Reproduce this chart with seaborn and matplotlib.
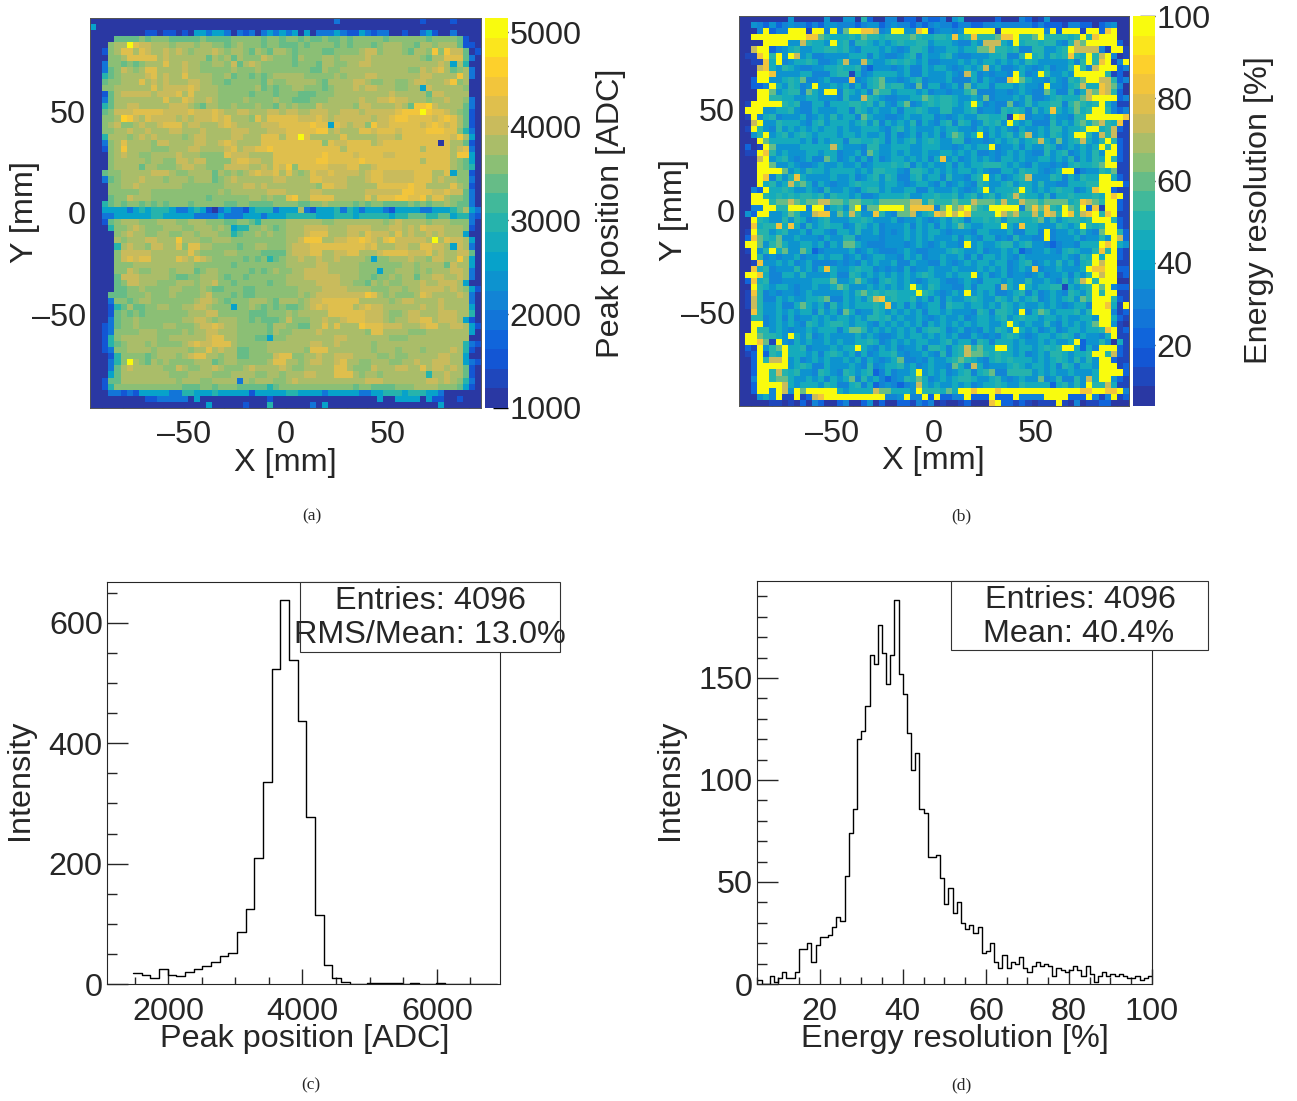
import numpy as np
import matplotlib
matplotlib.use("Agg")
import matplotlib.pyplot as plt
from matplotlib.colors import LinearSegmentedColormap
from matplotlib.patches import Rectangle
from matplotlib.ticker import FixedLocator, MultipleLocator
import seaborn as sns

sns.set_style("ticks")
plt.rcParams["font.family"] = ["Liberation Sans", "DejaVu Sans"]

W, H = 1297, 1101

# Cell levels, top row first, 8 columns per group.
peak_levels = dict(zip("abcdefghijklm", [1000, 1500, 2000, 2500, 3000, 3300, 3600, 3800, 4000, 4200, 4500, 4700, 5100]))
peak_rows = """
aaaaaaaa aaaaaaaa aaaaaaaa aaaaaaaa aaaaaaaa caaaaaaa aaaaaaba aaabaaaa
daaaaaaa aaaaaaaa aaaaaaaa aaaaaaaa aaaaaaaa aaaaaaaa aaaaaaaa aaaaaaaa
aaaaaaaa abbabbab addcddca cbcacdcd cdadaccc dcbbdcbc caabaacd baacaaaa
aaaaffff gfgggfff ffgffffg ggggfggf ggfgffgf fgfggggg fggggggf ggggfbaa
aaaghhmj iihhhghh hghhggfg hgggfggf ffgfgggg fgfgggfg hhhggfhh ghhhfbba
aabghjjh jihhihih ghhhihgh hgfhgfhh gfggggff gggghiig hhhgfhhg kgkiifab
aaagghjj jjjhihhh hhhfhghf hgggihgg gfhggghh ghhhhihh hhhhhhgf hhjjjfca
aacggfgf ghhhjhhi hhgghhgi fhihgggg gfgggfhh gghhiihh hhhhhhhh hihdheaa
aacfgihg hjjhhhhi hhgggggh ggghgggg ggggffhg ghhhhhhh hhhhggih ijhfghca
aaefghhh hijhihhj hhhhgghf ggfgfghh hhhggggg hghhhiih hhhhhhii hhhhkhca
aafgghhh jhihihhh iihhggfg ggggfhgg hhhhhgfh hhhiihgg hhgghiih hhikghaa
aagghhhh hhjhiiii jihhhggg ggghfgfg ghhgggfg hhhihiih hhgghhdi hhhhhgaa
aabfhiii iihiiijh jhhhhggg ggfgggfg ggfffggg hhhhhhhh hihhhhhf iihhhhaa
aacfhhhh hhhhjhhj ihhihggg ghgggghg gfffgggh hhhhihhi ijiihhhg hhihhgca
aaefhhii hhhhhiii hgfhhggh ggghggfh ghgggihh hhhgiihh hhihfkkl ihhhhfca
aafgiiij jjjjiiii jiiijihh iihhhiih iihhiiih hiiihiii iijkkkmk jjihgfba
aagghlki hjiiiihi hiiijijh hhgjhjjj jjiiijih iiiiiihi ijkkjjjj ijkjhfba
aaghiggh ihhijjjh iihhhiji hhhhiiij jjjjkjjd jihiigki ijjjjjij kjijhfba
aagghhih hihhhiih hhihhhhi iihhhiii jjjjjkkh ihhhjjij jjijjjjk kkjjgeca
aaehhhgh ihihhhhg hiihhhhi ihhhjjjh jjmjhhhh hjhhhhhi iihjjjjj jjjikhda
aacghjhh hhgiihhh hiihhiji hhhhjjjj jjjjjjgj iijjjjhi jjjjjjjj jajhhfba
aabghkhh hhggghhh iihhhhij hiijjkjj jjjjjjjj jhjjjjjj jjjjjjhj jjjhijca
aaaghihh gghhhhih hhggggji iihhhhjj jjjjjjkj jjjijjjj iijjjjjj jjjhkkda
aaaghhhh hghhggii hiiggggi jjiihhjj jjjjjkkj jjjjkjjj jjjjjjhj jjjhgfda
aaaghhhh fhhggghi ihhgggii iihhihji kgjjjjji iijjhhij jjjjjjjj jjjhgfea
aafgghhh hhiiihgg hhhhfhgh ghijiijh jhghjiij iiiihijj iiiiijjj hhjdggba
aacfghhh ihhhghhh ghhhfghi hhhhhhii hhhhjjii iihhhijj iiiiijjj hihhggca
aaagghhi hhhhhhhg gggggghh hiihihhh hhhhhgjj iihhhhhj jjjjkjjh hhhjhgba
aaaggggg hhgggggg ggggghgh hhhhhiii hhhhiihh hhhhhiii iiikkjjj iijiifca
aaafggih hhgggggg gggfgggg gghhghgg jkhhjjjj hhhhhjhj jjkkjjkh jjhggfca
aaefgfgg fgfgfggg fgggggff ggffffgg ggffgghg gggfgfgg ffffgfgf gghgffca
aaddddcd edeeedcc dedbacdc cbdeeecd ddhcbddd ecedcddd cbddddcc dddefhdc
aaccdddd ddeedddd dccccdcc cdddcddd eeeeeddd eeedeeee edeefffe effdeecb
aabfghhh ggghhhgg hhhgggff ggfegggg hhhhhhgg hhhhhhhh ghihhhhg hhhgggca
aaaegghi hggghhhg ghhhghgd eegghgfg hhhiiiih hhiiiihh hiihihji iihhhgba
aaaaghih hgghhggh hghhhgge fgghghgg hhhijjjh hhiihjii ihjhihhi hihhhdaa
aaaahghh hiihhhkh hhgghhhg gggggggg hhikkkhh iijjkjih jkiiiiih mhjiihda
aaaaehih hgiihhjg jjhhgggg fgghhggg hiiijjjj jjjjjijh hhiihhjj iihdihca
aaaagiii iihhhhhh jhgggghh ggggffff hiiijjhh iijjhhhi jjjjiiij hihhiifa
aaaagiji jjhhhhji hjihgggg gfgfgefg hhihhihh ihhhhgdg ghhhihhg iihhkhda
aaaagggh hhhhhhhh hggggggf gggggggg hhhhhiih hhhhgggg ggghhghh hhfihhda
aaaaggih gghhhghh hfghhggg ggfgfghg ghhiiiih hhhhgggd gghhhghg hhhiihca
aaaafiii hhhhhgff gghhhgfg gfgggggg hhhiiiii ihhhggfg ghghhfhh iihhihca
aaaafgii hhhggghh hghhiggf gggggfgg hhhhhiii ihhggfhg hgghhhih hiiihdaa
aaaaffgg hgggghhg gghgffgg gffggggg gghhhhii iihhhhgg ghhghhii iihihgdb
aaafffgg ghggghgg gghigggf gffggggg gghghiii iiiiikjh ghggghji hhhhihca
aaacggfg hhgggggg ghiihgfg gghhhgfh hhghiijj jjjjhhhh hghiihhh hihhhhca
aaabefhf fgghhggh hiihgggd gghgfgfg ffghijij jjjhijii hhhhhhih hihhhhda
aaabfgfg fggggggg hhhiiggg ggfffggg hghhhhhj jjjjjiii hgghiihh hiiihhea
aaacfggh gggggggh hiihghhh ggfgfffg iggghhih hijjjiii hghhiijj hiiihdba
aabcfggh gggghhgg ghiijihh gggggfhh ggffhhjh jhhhkjjj iiihhhij jhhiihdb
aabcgggg hhhggggh ghhiihhh gggggfhg ghhhhihh hhhhhgjj hhhhgggh hhhhhhda
aabeghhh hhhgghhh hhhijjhh gggffdgg hhhhhhhh iihhhhhh hggghhhh hhhhhhaa
aabefghh hghggggh ijiijjjh ggggghhh hhhhiihh ihhhhhgh hhhhhhhh hhhhhecb
aabcgghh hhghhhhh ghhjhihh ffggghhh hhhgjjjh hhhhhhgh hhghhhgh hhhiheba
aaabeggg gfghhhgh ijjhhghh ffggggij jgghhihh iiihhhhg ghgghhhh hiihhdaa
aaacegmh gfhghggg ghhhfghh ggggghjj hhghiihh ijhhgghh hgghhihh iiihhdcb
aaacfhih hhhhggih gghhihgg ghihhhhi hgghhhhh jjhgggih hhiihhjh iihihfba
aaadfhhh hhhhhggg hhhhgggh hhhgghhg hhhiihhh jjjhghhg hhhhhhhe hhihhfba
aabffhhh hhhhhhgh hhgghhhh chghhhgg hihhhhhh hhhhhiii hhhhhhhi ihihgeca
aabegggg gggggggf ffggfggg fffffefg gggggggg gggfggff ffggghhh hgggfdba
aaaccbcb dddddcce edddeddd ddbddddd eeddddcd ddddccdd eeedeeed dcaaaaaa
aaaaaaaa abbccccc adaaaaaa aaaaabaa aaaaaaaa aaaaaaad aaddddad bbaabaaa
aaaaaaaa aaaaaaaa aaadaaaa abaaaeaa aaaacada aaaaaaaa aaaaaaaa adaaaaaa
"""

reso_levels = dict(zip("abcdefghijk", [5, 12, 20, 29, 37, 44, 52, 62, 72, 85, 100]))
reso_rows = """
aaaaaaaa eaaaaaea aeeagcaa ddaccadc cdaefaaa aacaaadc abeaaaaa aaaaaaaa
aaedcecd eddcdcee dddcdeec deddcdcd eddcddcc ddeddddd cdcccbdd ccacdeaa
aaadkcdd kkkbkkdk dhkkjjid ekkeejkc deedekkk kkbkkkkk kkdkckkk bkkcjkaa
aakkkkkk kkkjjhgf ffgfhggf gggghgff ggfjfgjg gghjjkgg hkggggfg kgjkkkaa
aaaakkkk eeigffek fgdggfef efgffgge fffeddfe iiifekfg gfggedgi hkkkkkca
aaikkcde fgeeffgg fgedfffe fedeggfd eeffeffh higgfgdd ggeefgki iiidbkkb
abbjkgke kiefddee eefffdfe ddefgdfe efgeddee effgddgk fgegfgjg fkgikdab
aabbjfkd effgfdde fieeifee fgfgfefd deeefefe ffefefeg feeeeefd gkgjkbdk
aaaijfeg feddeeff gffgdcee edefddfe ffedefef iefddefe defdeegk gdikkkcd
aaakkjee eeffdddf ggbfdeff ffefddfe eefedifd edeedkfd ekgeefek kkkkgbca
aackkeef gfhddefd ddjdefgh eedefgde eefdddfd feddjkhf eedfedgf hkkiigcd
aaccdkfe gfdekeef efdfdfgh fggedhdf fdefdhef fdfffefe edkeedfg iffjihda
aaakkhef ggdhfekk dgfefdhg gefffefd eedeeghd ddeedefe ddhfddgd fihjigca
aaakkggf feeffeee dgeeigfe ddeeffhg fggfeefe hdeeefeg ddefgfff hikkkkcd
abkkkkkg fgddffdf ffggfgeg edfhdefg fggfefkf deddhdeg effggdgh gfgkfdbb
akkkeeff geddfeee ffdgfefe efdffgfe eggeefgd eedgfgfd gefjfefh fgkkgdcd
abkdfgde eefdefeg effdhfee ddefeeff dedefeeg gffgbkjd eedfeedg gkkkkkkj
aaikeegf ffedfgef ffefgegd fefegdfe dfgdgfde gfgekfef dddgefeg hfhigfjb
abkgedge fefefeff efeefffe dfgefeee feffeedf efefedfe efeggeff gkkfgicb
aaegkefg efgfefff effefeef dfdefdfe fdfhgefk dfefgegi efegfefk kgeigibb
aaakhfff ffefdfef fdggffgf dfefgefg feeggdee defefgef gifehefg ifegkgcb
acabkhee eefffffi feeedgge efffeeff feedefef fkdeefdf eegfdefe fefkgkcb
abbkjgef eeeffeff deefdhfe efefeefe effefefd dedefefe ddgefgde fegekkcb
aaaikefg edefddhf defdfdfd effefefd fjefdefe fedffefe effefegd fegfkgcb
aaakkhee feddefee feefdeff fgfgdfef eefdfeff gggfefed feededfg ffghkkbb
aaakkkkh efegffef fffefegg ffedggfe fefeffef eddffegf fedefkkc deegfhbb
aaakjdge gjfeeeef eefdefge gfddfgef fdgeedfg kefdefgi eeegfdfe gffkkfcb
aaakfgef ighfdfed eefgfffe ffedeffe dfdefedg feefgeff egeeddff fggkkkkc
aadckffg feefedge efedfgge feeffddf eeefedef kefffgkf efefgffd efjkkcbb
aakkgfgf gfggfgeg ffefddef fffgeeff gffgefge fgefgigf fegdffgf ffgfkjkb
aakkkghh ihghhiih hghhggfh hhhhiifh ggghggih hhgiggih hghhhhfg jihgkkcb
aaddkkgg kkkdkkdf gehkdhhk kkkhjjjj dhkhikhg fkkkkkdh jhjgfkhg kcjbkkcb
aeckkeef hgeeijje hfigeejg edhhiefg jikikjgg ggkihigg igjigkjg ijkgjkbb
aakgfeeg egfdefge eeffgfee efdeefed efegfdff gfgeggff ghegefgg fgkkkgcb
aajfggjf jfdgefgf fdegfefd eeefdfef dfefhfee fffkfejf feeegfef kgfgkkcb
abkggefg eefdffed ffegeefd edefefef fedeeedf feeefddf fdkdeefe gedhkkgc
acjhgfhe efeeedfe eggdeeed eeefefef eeefdfed ffdedgee ddkdeeef deegekic
akkheghf eeffefdf ehhfeddd eeedefed efeedkef eefggefg eedcdeed fffkjkfe
abkegkfh eehfcdee eefdefed ddefedde eefgfeef deefefcd eefedfgf eegjgkcb
aakgdede efdeefef fdefdeff eedfefde efeefdfd ffefedfe eeeeefed gfkfkkcb
aabjeefe fdefdddd ededfefe efddfeed dfedefef feffdefg defegefd fgkikkbb
aajfgdee egefdfjf eefgffde dedfdeef eeefeeef efefdefe jdeefeee fkjjkkcc
akkjfddf fegeeeef ddgfefef efefefgf eefeffke fdefdeed efdeefdf egkikkbc
acjfgdde eeeefffh eefhfedf gfefedef feddefed fffefeeg eefedgeg ikgkkkaa
aakgfeff edeefeef hgeeefef efefkfeg feeddfdf ffdifekf effggbfe fgkhkdcc
abjgdede edefeeee efeghfgf ggfffkgf edefekef efddefgd fdefedgf egkgkkbb
abigddfe feeffghd dfefegij fgffgefd fdfeefgf eegfegef gdefefge hgkkkgcb
abigeefd dfhfefdg efefffgf jefdfdef fdgffeff efegfefe efefedef fdkkjfbk
aajgeefe feffdgef dhfdeegf efefefdf fefeeedg fdggfekd fhgefffg egkkkdbc
aaggdefd fdeefefe ffefeggf gefeefed efeefdef fefgefgf feffefee ffekkfcb
aakkdefe fedgfefg gfeffedf efefefdf efefefef feefkfef eegedfef efhkkeba
aakggefe deefefff dfhhgefe fefefdfg gfdefded fegfekfe fdefdeff effgjkbc
akkhggfe kfegdefe eeefefed defeffef efefddfe dedfgfed effefgfd feedfkbb
akkjhbke dfefeefe feeffgfd efefeffe efgeffdg fdfffefe efefeefk ceegeafb
acbkeghk ffgdeeef effkfedf efdeefdg gfdfgigh ffkkfeff efgfgkkf cfdkkkcb
abckcgfk fffefdfg fefdfdef fgedeefe dgdfgihh gfgffefd efeggfef fgkkgicb
aackgiik efdefefe efefdfed efhddedf eefghgfe dfgfgfff efefgfeg egekkcbb
aackkkkk efgfddfe eefedgde ffgefdef eedhfdif deeefgfe ffefdgfd ffekkkbc
aackkgig fgeedgfe dgfefgcd fdeefkef efdefgdf ghddgggg efefeefe eefkkkkc
aadkkghh feefefdf efhdgefd cdegfhfd efefggfe efgedefe ehdegddg eifkkecb
aackkkki fefffegf ddfgdfcd edcdeife feefefde ffgfeegf fffcfgeg ekggifbb
aackkdki ekhkkkkk feffffih hfffekgg gfhfkkjk kkjkkkkk kkkkkkkk jjkkjjkd
aaaefdkb bkbcijkk kkkkkkkk ddekddkc kccddkcc ckccckdd ddkkkkcc ckdbdkbc
aaaaabba bacadcaa cdaaceac aaccbdcd abaabcaa ajkccbcb abbbkbad abbccaaa
"""

def to_grid(rows, levels):
    out = []
    for row in rows.split("\n"):
        row = row.replace(" ", "")
        if row:
            row = row.ljust(64, row[-1])[:64]
            out.append([levels[c] for c in row])
    return np.array(out, dtype=float)

peak_map = to_grid(peak_rows, peak_levels)
reso_map = to_grid(reso_rows, reso_levels)

peak_first_edge = 1479
peak_bin_width = 129
peak_counts = [18, 15.5, 10, 25, 15.5, 14, 20.5, 25, 30, 37, 46, 52, 87, 124, 209, 336, 523, 638,
               538, 437, 278, 115, 32, 10, 3.3, 0, 0, 1, 1, 1, 1, 0, 1, 0, 0, 1, 0, 0, 0, 0, 0, 0]
reso_first_edge = 5
reso_counts = [2, 0, 0, 4, 1, 3, 6, 3, 3, 6, 17, 17, 20, 11, 19, 23, 23, 24, 28, 33, 31, 53, 74, 86,
               120, 124, 136, 161, 157, 176, 162, 147, 161, 188, 152, 142, 123, 105, 113, 86, 84, 62,
               62, 63, 52, 39, 47, 35, 40, 30, 27, 29, 25, 28, 15, 16, 20, 11, 8, 14, 8, 11, 10, 13,
               8, 6, 9, 11, 9, 10, 9, 4, 8, 7, 6, 7, 9, 7, 4, 9, 5, 1, 4, 6, 4, 5, 4, 5, 4, 3, 3, 4,
               2, 3, 4]

bird = LinearSegmentedColormap.from_list(
    "bird",
    [(0.165, 0.22, 0.64), (0.0592, 0.3599, 0.8684), (0.0780, 0.5041, 0.8385),
     (0.0232, 0.6419, 0.7914), (0.1802, 0.7178, 0.6425), (0.5301, 0.7492, 0.4662),
     (0.8186, 0.7328, 0.3499), (0.9956, 0.7862, 0.1968), (0.9764, 0.9832, 0.0539)],
    N=20,
)

fig = plt.figure(figsize=(W / 100, H / 100), dpi=100)

def px_axes(x0, y0, x1, y1):
    return fig.add_axes([x0 / W, 1 - y1 / H, (x1 - x0) / W, (y1 - y0) / H])

def px_text(x, y, s, size=23.3, rotation=0, **kw):
    fig.text(x / W, 1 - y / H, s, fontsize=size, rotation=rotation, ha="center", va="center", **kw)

FS = 23.3

def heat_panel(box, cbox, data, vmin, vmax, cticks):
    ax = px_axes(*box)
    cax = px_axes(*cbox)
    sns.heatmap(data, ax=ax, cbar_ax=cax, cmap=bird, vmin=vmin, vmax=vmax,
                xticklabels=False, yticklabels=False, square=False)
    pos = [-50, 0, 50]
    lab = ["–50", "0", "50"]
    ax.set_xticks([(v + 96) / 3 for v in pos], lab, fontsize=FS)
    ax.set_yticks([(96 - v) / 3 for v in pos], lab, fontsize=FS)
    mins = [v for v in range(-90, 100, 10) if v not in pos]
    ax.xaxis.set_minor_locator(FixedLocator([(v + 96) / 3 for v in mins]))
    ax.yaxis.set_minor_locator(FixedLocator([(96 - v) / 3 for v in mins]))
    ax.tick_params(axis="x", which="major", direction="in", length=11, width=1, pad=9, color="black")
    ax.tick_params(axis="y", which="major", direction="in", length=15, width=1, pad=3, color="black")
    ax.tick_params(axis="x", which="minor", direction="in", length=5, width=1, color="black")
    ax.tick_params(axis="y", which="minor", direction="in", length=7.5, width=1, color="black")
    for s in ax.spines.values():
        s.set_visible(True)
        s.set_linewidth(0.7)
        s.set_color("#555555")
    cax.set_yticks(cticks)
    cax.set_yticklabels([str(t) for t in cticks], fontsize=FS)
    cax.tick_params(axis="y", which="major", direction="in", length=11, width=1, pad=1, color="black")
    cax.minorticks_off()
    return ax

heat_panel((90, 18, 481, 408), (485, 18, 508, 408), peak_map, 1000, 5150, [1000, 2000, 3000, 4000, 5000])
heat_panel((739, 16, 1129, 406), (1133, 16, 1155, 406), reso_map, 5.2, 100, [20, 40, 60, 80, 100])

def hist_panel(box, first, width, counts, xlim, ylim, xmaj, xmin_, ymaj, ymin_):
    ax = px_axes(*box)
    edges = first + width * np.arange(len(counts) + 1)
    centers = 0.5 * (edges[:-1] + edges[1:])
    sns.histplot(x=centers.tolist(), weights=list(counts), bins=edges.tolist(), element="step", fill=False,
                 color="black", linewidth=1, ax=ax)
    ax.set_xlim(*xlim)
    ax.set_ylim(*ylim)
    ax.set_xlabel("")
    ax.set_ylabel("")
    ax.xaxis.set_major_locator(FixedLocator(xmaj))
    ax.xaxis.set_minor_locator(MultipleLocator(xmin_))
    ax.yaxis.set_major_locator(MultipleLocator(ymaj))
    ax.yaxis.set_minor_locator(MultipleLocator(ymin_))
    ax.tick_params(axis="both", labelsize=FS)
    ax.tick_params(axis="x", which="major", direction="in", length=11, width=1, pad=9)
    ax.tick_params(axis="y", which="major", direction="in", length=15, width=1, pad=3)
    ax.tick_params(axis="x", which="minor", direction="in", length=5, width=1)
    ax.tick_params(axis="y", which="minor", direction="in", length=7.5, width=1)
    for s in ax.spines.values():
        s.set_visible(True)
        s.set_linewidth(0.8)
    return ax

hist_panel((107, 582, 500, 984), peak_first_edge, peak_bin_width, peak_counts,
           (1090, 6940), (0, 668), [2000, 4000, 6000], 500, 200, 50)
hist_panel((757, 581, 1152, 984), reso_first_edge, 1, reso_counts,
           (4.9, 100), (0, 197.5), [20, 40, 60, 80, 100], 5, 50, 10)

for x0, y0, x1, y1 in [(300, 582, 560, 652), (951, 581, 1208, 650)]:
    fig.add_artist(Rectangle((x0 / W, 1 - y1 / H), (x1 - x0) / W, (y1 - y0) / H,
                             transform=fig.transFigure, facecolor="white", edgecolor="#333333",
                             linewidth=0.8, zorder=5))

def box_text(x, y, s):
    fig.text(x / W, 1 - y / H, s, fontsize=FS, ha="center", va="center", zorder=6)

box_text(430, 601, "Entries: 4096")
box_text(430, 635, "RMS/Mean: 13.0%")
box_text(1080, 600, "Entries: 4096")
box_text(1079, 634, "Mean: 40.4%")

px_text(285, 463, "X [mm]")
px_text(25, 212, "Y [mm]", rotation=90)
px_text(611, 213, "Peak position [ADC]", rotation=90)
px_text(933, 461, "X [mm]")
px_text(674, 210, "Y [mm]", rotation=90)
px_text(1259, 210, "Energy resolution [%]", rotation=90)
px_text(305, 1039, "Peak position [ADC]")
px_text(20, 780, "Intensity", rotation=90)
px_text(955, 1039, "Energy resolution [%]")
px_text(670, 780, "Intensity", rotation=90)

for x, y, s in [(312, 516, "(a)"), (961, 516, "(b)"), (311, 1085, "(c)"), (961, 1085, "(d)")]:
    px_text(x, y, s, size=12.5, family="Liberation Serif")

fig.savefig("out.png", dpi=100)
